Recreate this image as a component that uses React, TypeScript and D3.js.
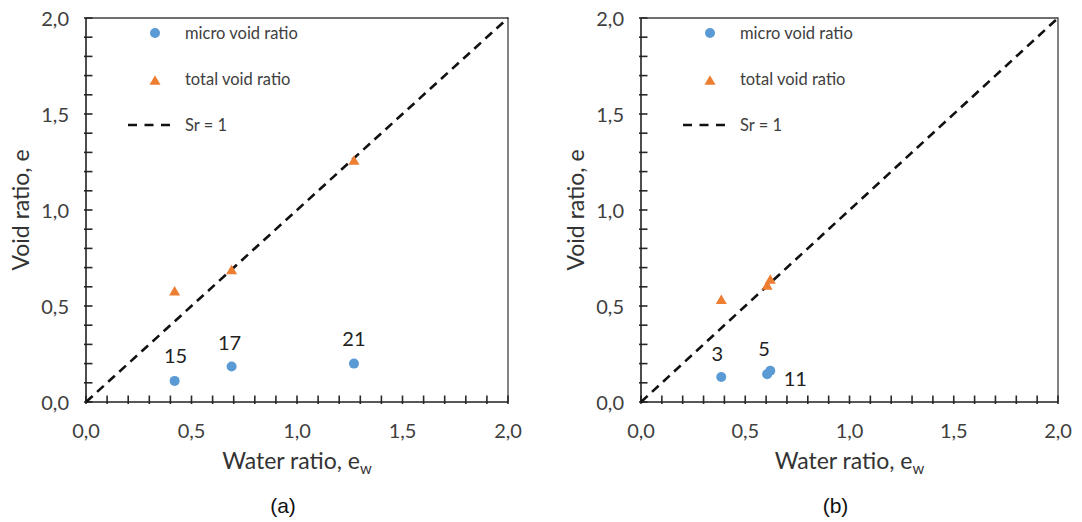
import React from "react";
import * as d3 from "d3";

// Samples shown in panel (a)
const samplesA = ["15", "17", "21"];
const waterRatioA = [0.42, 0.69, 1.27];
const microVoidA = [0.11, 0.185, 0.2];
const totalVoidA = [0.58, 0.69, 1.26];

// Samples shown in panel (b)
const samplesB = ["3", "5", "11"];
const waterRatioB = [0.385, 0.605, 0.62];
const microVoidB = [0.13, 0.145, 0.163];
const totalVoidB = [0.535, 0.61, 0.64];

// Axis ticks (both axes share the same range)
const majorTicks = [0, 0.5, 1, 1.5, 2];
const axisDomain = [0, 2];
const saturationLine = [0, 2]; // Sr = 1  ->  e = e_w

const legendLabels = ["micro void ratio", "total void ratio", "Sr = 1"];

const BLUE = "#5B9BD5";
const ORANGE = "#ED7D31";
const TEXT = "#404040";
const FONT = "Lato, 'Open Sans', sans-serif";

const fmt = (v: number) => d3.format(".1f")(v).replace(".", ",");

type PanelProps = {
  left: number;
  right: number;
  top: number;
  bottom: number;
  caption: string;
  samples: string[];
  ew: number[];
  micro: number[];
  total: number[];
  labelOffsets: [number, number][];
};

function Panel(p: PanelProps) {
  const x = d3.scaleLinear().domain(axisDomain).range([p.left, p.right]);
  const y = d3.scaleLinear().domain(axisDomain).range([p.bottom, p.top]);
  const minor = x.ticks(20);
  const line = d3
    .line<number>()
    .x((d) => x(d))
    .y((d) => y(d));
  const tri = (w: number, h: number) =>
    `M0,${-h / 2}L${w / 2},${h / 2}L${-w / 2},${h / 2}Z`;
  const cx = (p.left + p.right) / 2;
  const cy = (p.top + p.bottom) / 2;
  const lg = p.left;

  return (
    <g>
      {/* frame */}
      <path
        d={`M${p.left},${p.top}H${p.right}V${p.bottom}`}
        fill="none"
        stroke="#404040"
        strokeWidth={1.3}
      />
      {/* tick marks every 0.1, pointing into the plot */}
      {minor.map((t, i) => (
        <rect
          key={"xt" + i}
          x={x(t) - 0.8}
          y={p.bottom - 6.5}
          width={1.6}
          height={8.5}
          fill="#2a2a2a"
        />
      ))}
      {minor.map((t, i) => (
        <rect
          key={"yt" + i}
          x={p.left - 2}
          y={y(t) - 0.8}
          width={8.5}
          height={1.6}
          fill="#2a2a2a"
        />
      ))}
      {/* axes */}
      <path
        d={`M${p.left},${p.top}V${p.bottom}H${p.right}`}
        fill="none"
        stroke="#222"
        strokeWidth={1.6}
      />
      {/* tick labels */}
      {majorTicks.map((t) => (
        <text
          key={"xl" + t}
          x={x(t)}
          y={430}
          textAnchor="middle"
          dominantBaseline="central"
          fontSize={20}
          fill={TEXT}
          fontFamily={FONT}
        >
          {fmt(t)}
        </text>
      ))}
      {majorTicks.map((t) => (
        <text
          key={"yl" + t}
          x={p.left - 17}
          y={y(t)}
          textAnchor="end"
          dominantBaseline="central"
          fontSize={20}
          fill={TEXT}
          fontFamily={FONT}
        >
          {fmt(t)}
        </text>
      ))}
      {/* axis titles */}
      <text
        x={cx}
        y={469}
        textAnchor="middle"
        fontSize={23}
        fill="#333"
        fontFamily={FONT}
      >
        Water ratio, e
        <tspan fontSize={15} dy={5}>w</tspan>
      </text>
      <text
        transform={`translate(${p.left - 66},${cy}) rotate(-90)`}
        textAnchor="middle"
        dominantBaseline="central"
        fontSize={23}
        fill="#333"
        fontFamily={FONT}
      >
        Void ratio, e
      </text>
      <text
        x={cx - 14}
        y={505}
        textAnchor="middle"
        dominantBaseline="central"
        fontSize={21}
        fill="#111"
        fontFamily="'Liberation Sans', Arial, sans-serif"
      >
        {p.caption}
      </text>
      {/* Sr = 1 line */}
      <path
        d={line(saturationLine) || ""}
        fill="none"
        stroke="#111"
        strokeWidth={2.6}
        strokeDasharray="9,6"
      />
      {/* total void ratio */}
      {p.total.map((v, i) => (
        <path
          key={"tv" + i}
          transform={`translate(${x(p.ew[i])},${y(v)})`}
          d={tri(11, 9.5)}
          fill={ORANGE}
        />
      ))}
      {/* micro void ratio */}
      {p.micro.map((v, i) => (
        <circle key={"mv" + i} cx={x(p.ew[i])} cy={y(v)} r={5} fill={BLUE} />
      ))}
      {/* sample labels */}
      {p.samples.map((s, i) => (
        <text
          key={"sl" + i}
          x={x(p.ew[i]) + p.labelOffsets[i][0]}
          y={y(p.micro[i]) + p.labelOffsets[i][1]}
          textAnchor="middle"
          dominantBaseline="central"
          fontSize={20}
          fill="#222"
          fontFamily={FONT}
        >
          {s}
        </text>
      ))}
      {/* legend */}
      <circle cx={lg + 69} cy={33} r={5} fill={BLUE} />
      <path transform={`translate(${lg + 69},${80})`} d={tri(11, 9.5)} fill={ORANGE} />
      <line
        x1={lg + 42}
        x2={lg + 85}
        y1={125}
        y2={125}
        stroke="#111"
        strokeWidth={2.6}
        strokeDasharray="9,7.5"
      />
      {legendLabels.map((t, i) => (
        <text
          key={"lg" + i}
          x={lg + 99}
          y={33 + i * 46}
          dominantBaseline="central"
          fontSize={16.5}
          fill={TEXT}
          fontFamily={FONT}
        >
          {t}
        </text>
      ))}
    </g>
  );
}

export default function App() {
  return (
    <svg
      width={1082}
      height={522}
      style={{ position: "absolute", left: 0, top: 0, background: "#fff" }}
    >
      <rect width={1082} height={522} fill="#fff" />
      <Panel
        left={86}
        right={508}
        top={18}
        bottom={402}
        caption="(a)"
        samples={samplesA}
        ew={waterRatioA}
        micro={microVoidA}
        total={totalVoidA}
        labelOffsets={[
          [1, -26],
          [-2, -24],
          [0, -26],
        ]}
      />
      <Panel
        left={641}
        right={1058}
        top={18}
        bottom={402}
        caption="(b)"
        samples={samplesB}
        ew={waterRatioB}
        micro={microVoidB}
        total={totalVoidB}
        labelOffsets={[
          [-4, -24],
          [-3, -26],
          [25, 7],
        ]}
      />
    </svg>
  );
}
